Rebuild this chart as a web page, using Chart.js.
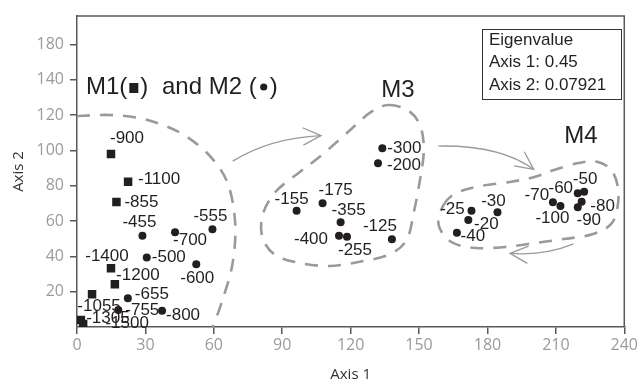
<!DOCTYPE html>
<html>
<head>
<meta charset="UTF-8">
<title>Ordination</title>
<script src="https://cdn.jsdelivr.net/npm/chart.js@4.4.0/dist/chart.umd.min.js"></script>
<style>
  body { margin: 0; background: #fff; }
</style>
</head>
<body>
<canvas id="ordChart" width="640" height="387"></canvas>
<script>
// M1 (squares)
const m1Labels = ['-900', '-1100', '-855', '-1400', '-1200', '-1055', '-1305', '-1500'];
const m1X = [14.9, 22.4, 17.3, 14.9, 16.6, 6.6, 1.7, 2.7];
const m1Y = [97.9, 82.2, 70.7, 33.2, 24.2, 18.5, 4.0, 1.7];

// M2 (dots)
const m2Labels = ['-455', '-700', '-555', '-500', '-600', '-655', '-755', '-800'];
const m2X = [28.7, 43.0, 59.4, 30.6, 52.3, 22.3, 18.1, 37.3];
const m2Y = [51.7, 53.6, 55.3, 39.4, 35.5, 16.2, 9.6, 9.2];

// M3
const m3Labels = ['-300', '-200', '-155', '-175', '-355', '-400', '-255', '-125'];
const m3X = [133.9, 132.0, 96.3, 107.7, 115.6, 114.9, 118.4, 138.1];
const m3Y = [101.1, 92.6, 65.8, 70.0, 59.3, 51.7, 51.1, 49.6];

// M4
const m4Labels = ['-25', '-30', '-20', '-40', '-70', '-100', '-60', '-50', '-80', '-90'];
const m4X = [173.0, 184.4, 171.6, 166.6, 208.7, 212.0, 219.6, 222.4, 221.3, 219.6];
const m4Y = [65.8, 64.9, 60.6, 53.4, 70.6, 68.5, 75.7, 76.6, 70.9, 67.7];

const xTickValues = [0, 30, 60, 90, 120, 150, 180, 210, 240];
const xTickLabels = ['0', '30', '60', '90', '120', '150', '180', '210', '240'];
const yTickValues = [20, 40, 60, 80, 100, 120, 140, 160];
const yTickLabels = ['20', '40', '60', '80', '100', '120', '140', '180'];

const eigenLines = ['Eigenvalue', 'Axis 1: 0.45', 'Axis 2: 0.07921'];

// label nudges (px, label centre relative to its point)
const m1Nudge = [[16, -16], [31, -2], [25, 0], [-4, -12], [23, -9], [7, 12], [27, -2], [44, -1]];
const m2Nudge = [[-3, -13], [15, 8], [-2, -13], [22, 0], [1, 14], [24, -4], [24, 0], [21, 5]];
const m3Nudge = [[22, 0], [26, 2], [-5, -11], [13, -13], [8, -12], [-28, 4], [8, 14], [-12, -13]];
const m4Nudge = [[-19, -1], [-4, -11], [18, 4], [16, 4], [-16, -7], [-8, 12], [-17, -5], [1, -12], [21, 5], [11, 13]];

// hand drawn group outlines, in axis units
const groupM12 = [[0, 119.4], [14.1, 120], [27, 118.3], [37.7, 114.3], [48.4, 107.5], [59.1, 95.6],
  [66.4, 80.3], [69.4, 57.7], [68.1, 35.1], [63.8, 15.3], [59.6, 0]];
const groupM3 = [[136.3, 125.6], [144.9, 122.8], [150.4, 114.3], [152.1, 100.2], [150.4, 83.2],
  [147.9, 66.2], [144.5, 49.2], [136.3, 40.7], [123.4, 36.8], [110.6, 34.5], [97.7, 36.2],
  [87, 40.7], [81.4, 50.4], [81.4, 63.4], [87, 76.4], [97.7, 87.7], [106.3, 96.2],
  [114.9, 105.8], [122.2, 114.3], [129, 121.7]];
const groupM4 = [[160.7, 69], [166.3, 75.8], [177, 79.8], [189.9, 82.1], [200.6, 84.9],
  [209.2, 88.9], [219.9, 92.8], [228.5, 93.4], [234.9, 87.7], [237.5, 74.7], [234.9, 59.4],
  [226.3, 52.6], [213.5, 49.8], [200.6, 47.5], [187.7, 45.3], [174.9, 44.7], [164.2, 48.1],
  [158.6, 57.7]];
const arrows = [
  [[68.3, 93.9], [84.9, 107], [107, 108.3]],
  [[158.5, 102.4], [185.6, 103], [200.3, 89.2]],
  [[217.7, 47], [204.9, 40.2], [189.9, 41.7]]
];

const ink = '#231f20';
const axisGrey = '#58595b';

function toPoints(xs, ys) {
  return xs.map((x, i) => ({ x: x, y: ys[i] }));
}

function smoothPath(ctx, pts, closed) {
  const n = pts.length;
  const get = i => closed ? pts[(i + n) % n] : pts[Math.max(0, Math.min(n - 1, i))];
  ctx.moveTo(pts[0][0], pts[0][1]);
  const last = closed ? n : n - 1;
  for (let i = 0; i < last; i++) {
    const p0 = get(i - 1), p1 = get(i), p2 = get(i + 1), p3 = get(i + 2);
    ctx.bezierCurveTo(
      p1[0] + (p2[0] - p0[0]) / 6, p1[1] + (p2[1] - p0[1]) / 6,
      p2[0] - (p3[0] - p1[0]) / 6, p2[1] - (p3[1] - p1[1]) / 6,
      p2[0], p2[1]);
  }
}

const decorations = {
  id: 'decorations',
  beforeDatasetsDraw(chart) {
    const { ctx, scales: { x, y }, chartArea } = chart;
    const px = p => [x.getPixelForValue(p[0]), y.getPixelForValue(p[1])];
    ctx.save();
    // frame top/right
    ctx.strokeStyle = axisGrey;
    ctx.lineWidth = 1.5;
    ctx.beginPath();
    ctx.moveTo(chartArea.left, chartArea.top);
    ctx.lineTo(chartArea.right, chartArea.top);
    ctx.lineTo(chartArea.right, chartArea.bottom);
    ctx.stroke();

    // dashed group outlines
    ctx.strokeStyle = '#9a9a9a';
    ctx.lineWidth = 2.6;
    ctx.setLineDash([13, 10]);
    [[groupM12, false], [groupM3, true], [groupM4, true]].forEach(([g, closed]) => {
      ctx.beginPath();
      smoothPath(ctx, g.map(px), closed);
      if (closed) ctx.closePath();
      ctx.stroke();
    });
    ctx.setLineDash([]);

    // arrows
    ctx.strokeStyle = '#9a9a9a';
    ctx.lineWidth = 1.3;
    arrows.forEach(a => {
      const [s, c, e] = a.map(px);
      ctx.beginPath();
      ctx.moveTo(s[0], s[1]);
      ctx.quadraticCurveTo(c[0], c[1], e[0], e[1]);
      ctx.stroke();
      const ang = Math.atan2(e[1] - c[1], e[0] - c[0]);
      ctx.beginPath();
      ctx.moveTo(e[0] - 20 * Math.cos(ang - 0.45), e[1] - 20 * Math.sin(ang - 0.45));
      ctx.lineTo(e[0], e[1]);
      ctx.lineTo(e[0] - 20 * Math.cos(ang + 0.45), e[1] - 20 * Math.sin(ang + 0.45));
      ctx.stroke();
    });
    ctx.restore();
  },
  afterDatasetsDraw(chart) {
    const { ctx } = chart;
    ctx.save();
    ctx.fillStyle = ink;
    ctx.font = '17px "Liberation Sans", Arial, sans-serif';
    ctx.textAlign = 'center';
    ctx.textBaseline = 'middle';
    chart.data.datasets.forEach((ds, di) => {
      const meta = chart.getDatasetMeta(di);
      meta.data.forEach((pt, i) => {
        const n = ds.nudge[i];
        ctx.fillText(ds.pointLabels[i], pt.x + n[0], pt.y + n[1]);
      });
    });

    // group titles
    ctx.font = '24px "Liberation Sans", Arial, sans-serif';
    ctx.textAlign = 'left';
    ctx.textBaseline = 'alphabetic';
    let cx = 86;
    const base = 94;
    ctx.fillText('M1(', cx, base);
    cx += ctx.measureText('M1(').width + 2;
    ctx.fillRect(cx, base - 11, 9, 10);
    cx += 11;
    ctx.fillText(')', cx, base);
    cx = 162;
    ctx.fillText('and M2 (', cx, base);
    cx += ctx.measureText('and M2 (').width + 4;
    ctx.beginPath();
    ctx.arc(cx + 3, base - 7, 3.6, 0, Math.PI * 2);
    ctx.fill();
    ctx.fillText(')', cx + 9, base);
    ctx.textAlign = 'center';
    ctx.fillText('M3', 398, 97);
    ctx.fillText('M4', 581, 143);

    // eigenvalue box
    ctx.strokeStyle = '#333';
    ctx.lineWidth = 1;
    ctx.strokeRect(482.5, 29.5, 139, 70);
    ctx.font = '17px "Liberation Sans", Arial, sans-serif';
    ctx.textAlign = 'left';
    ctx.textBaseline = 'middle';
    eigenLines.forEach((t, i) => ctx.fillText(t, 489, 40 + i * 22.5));
    ctx.restore();
  }
};

const pointBase = {
  backgroundColor: ink,
  borderColor: ink,
  borderWidth: 0,
  pointRadius: 4,
  pointHoverRadius: 4,
  showLine: false
};

new Chart(document.getElementById('ordChart'), {
  type: 'scatter',
  data: {
    datasets: [
      Object.assign({}, pointBase, { label: 'M1', data: toPoints(m1X, m1Y), pointStyle: 'rect', pointRadius: 6, pointHoverRadius: 6, pointLabels: m1Labels, nudge: m1Nudge }),
      Object.assign({}, pointBase, { label: 'M2', data: toPoints(m2X, m2Y), pointStyle: 'circle', pointLabels: m2Labels, nudge: m2Nudge }),
      Object.assign({}, pointBase, { label: 'M3', data: toPoints(m3X, m3Y), pointStyle: 'circle', pointLabels: m3Labels, nudge: m3Nudge }),
      Object.assign({}, pointBase, { label: 'M4', data: toPoints(m4X, m4Y), pointStyle: 'circle', pointLabels: m4Labels, nudge: m4Nudge })
    ]
  },
  options: {
    responsive: false,
    animation: false,
    layout: { padding: { left: 0, right: 3, top: 16, bottom: 0 } },
    plugins: {
      legend: { display: false },
      tooltip: { enabled: false }
    },
    scales: {
      x: {
        type: 'linear',
        min: 0,
        max: 240,
        afterFit: s => { s.height = 60; },
        afterBuildTicks: s => { s.ticks = xTickValues.map(v => ({ value: v })); },
        border: { display: true, color: axisGrey, width: 1.5 },
        grid: { drawOnChartArea: false, drawTicks: true, tickLength: 7, color: axisGrey, lineWidth: 1.5 },
        ticks: {
          autoSkip: false,
          maxRotation: 0,
          padding: 2,
          color: '#9b9b9b',
          font: { family: '"Open Sans"', size: 16 },
          callback: (v, i) => xTickLabels[i]
        },
        title: {
          display: true,
          text: 'Axis 1',
          color: '#333',
          font: { family: '"Open Sans"', size: 15 },
          padding: { top: 0, bottom: 3 }
        }
      },
      y: {
        type: 'linear',
        min: 0,
        max: 176,
        afterFit: s => { s.width = 77; },
        afterBuildTicks: s => { s.ticks = yTickValues.map(v => ({ value: v })); },
        border: { display: true, color: axisGrey, width: 1.5 },
        grid: { drawOnChartArea: false, drawTicks: true, tickLength: 7, color: axisGrey, lineWidth: 1.5 },
        ticks: {
          autoSkip: false,
          padding: 6,
          color: '#9b9b9b',
          font: { family: '"Open Sans"', size: 16 },
          callback: (v, i) => yTickLabels[i]
        },
        title: {
          display: true,
          text: 'Axis 2',
          color: '#333',
          font: { family: '"Open Sans"', size: 15 },
          padding: { top: 10, bottom: 0 }
        }
      }
    }
  },
  plugins: [decorations]
});
</script>
</body>
</html>
